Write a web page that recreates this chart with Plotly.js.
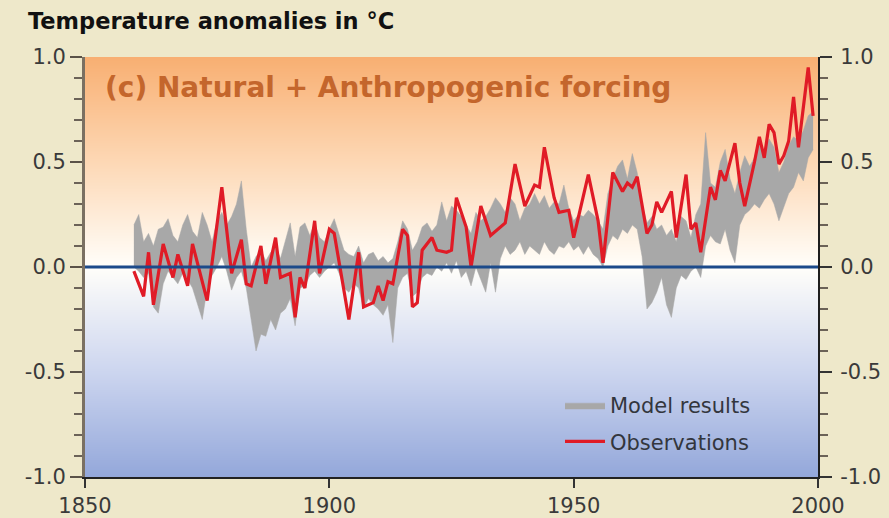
<!DOCTYPE html>
<html>
<head>
<meta charset="utf-8">
<script src="https://cdn.plot.ly/plotly-3.0.1.min.js"></script>
<style>html,body{margin:0;padding:0;background:#EEE8CA;}#chart{width:889px;height:518px;}</style>
</head>
<body>
<div id="chart"></div>
<script>
// ---- data ----
const modelYears = [];
for (let y = 1860; y <= 1999; y++) modelYears.push(y);
const modelUpper = [
 0.20,0.25,0.12,0.16,0.10,0.18,0.19,0.23,0.15,0.12,
 0.20,0.25,0.17,0.14,0.26,0.20,0.12,0.22,0.26,0.20,
 0.24,0.30,0.41,0.18,0.00,0.05,0.08,0.03,0.07,0.10,
 0.04,0.12,0.21,0.05,0.19,0.21,0.15,0.21,0.14,0.12,
 0.18,0.23,0.15,0.08,0.06,0.05,0.10,0.02,0.06,0.07,
 0.03,0.05,0.02,0.04,0.12,0.22,0.18,0.08,0.12,0.19,
 0.21,0.17,0.20,0.31,0.22,0.29,0.27,0.24,0.20,0.16,
 0.26,0.22,0.24,0.28,0.33,0.30,0.26,0.33,0.30,0.22,
 0.28,0.30,0.35,0.30,0.34,0.28,0.31,0.30,0.39,0.28,
 0.22,0.25,0.24,0.27,0.25,0.22,0.18,0.35,0.42,0.48,
 0.51,0.42,0.54,0.45,0.30,0.21,0.24,0.18,0.20,0.15,
 0.18,0.12,0.24,0.22,0.14,0.25,0.30,0.64,0.40,0.38,
 0.50,0.56,0.42,0.35,0.45,0.53,0.48,0.52,0.58,0.55,
 0.61,0.57,0.45,0.50,0.58,0.62,0.60,0.65,0.72,0.74
];
const modelLower = [
 0.00,-0.02,-0.05,-0.03,-0.19,-0.22,-0.08,-0.02,-0.05,-0.08,
 -0.03,-0.06,-0.10,-0.18,-0.25,-0.10,-0.04,0.00,0.05,-0.02,
 -0.11,-0.05,-0.02,-0.10,-0.25,-0.40,-0.32,-0.33,-0.25,-0.30,
 -0.22,-0.20,-0.15,-0.28,-0.10,-0.09,-0.04,-0.02,-0.05,-0.02,
 0.00,0.02,-0.03,-0.10,-0.12,-0.08,-0.10,-0.20,-0.15,-0.18,
 -0.20,-0.23,-0.18,-0.36,-0.10,-0.05,-0.03,-0.14,-0.12,-0.05,
 -0.03,-0.04,0.00,-0.02,0.02,-0.03,0.03,-0.05,-0.02,-0.09,
 0.00,-0.06,-0.12,0.02,-0.12,0.04,0.10,0.06,0.08,0.12,
 0.06,0.10,0.08,0.06,0.12,0.08,0.06,0.10,0.09,0.12,
 0.08,0.10,0.06,0.10,0.06,0.04,0.00,0.10,0.15,0.13,
 0.18,0.16,0.20,0.18,0.05,-0.20,-0.17,-0.12,-0.05,-0.18,
 -0.24,-0.10,-0.04,-0.06,-0.02,0.00,-0.05,0.10,0.15,0.12,
 0.11,0.18,0.08,0.02,0.20,0.25,0.27,0.30,0.28,0.32,
 0.35,0.30,0.22,0.28,0.35,0.38,0.45,0.41,0.52,0.56
];
const obsYears = [
 1860,1862,1863,1864,1866,1868,1869,1871,1872,1875,1878,1880,1882,1883,1884,1886,1887,1889,1890,1892,
 1893,1894,1895,1897,1898,1900,1901,1904,1906,1907,1909,1910,1911,1912,1913,1915,1916,1917,1918,1919,
 1921,1922,1924,1925,1926,1928,1929,1931,1933,1935,1936,1938,1940,1942,1943,1944,1946,1947,1949,1950,
 1953,1955,1956,1958,1960,1961,1962,1963,1965,1966,1967,1968,1970,1971,1973,1974,1975,1976,1978,1979,
 1980,1981,1983,1984,1985,1987,1988,1989,1990,1991,1992,1993,1994,1995,1996,1998,1999
];
const obsValues = [
 -0.02,-0.14,0.07,-0.18,0.11,-0.05,0.06,-0.09,0.11,-0.16,0.38,-0.03,0.13,-0.08,-0.09,0.10,-0.08,0.14,-0.05,-0.03,
 -0.24,-0.05,-0.10,0.22,-0.03,0.18,0.16,-0.25,0.07,-0.19,-0.17,-0.09,-0.16,-0.07,-0.08,0.18,0.15,-0.19,-0.17,0.08,
 0.14,0.08,0.07,0.08,0.33,0.19,0.00,0.29,0.15,0.19,0.21,0.49,0.29,0.39,0.38,0.57,0.33,0.26,0.27,0.14,
 0.44,0.22,0.02,0.45,0.36,0.40,0.38,0.43,0.16,0.20,0.31,0.26,0.36,0.14,0.44,0.18,0.21,0.07,0.38,0.32,
 0.46,0.41,0.59,0.40,0.29,0.50,0.62,0.52,0.68,0.64,0.49,0.53,0.60,0.81,0.57,0.95,0.72
];
const xTicks = [1850, 1900, 1950, 2000];
const yTicks = [-1.0, -0.5, 0.0, 0.5, 1.0];
const yTickText = ['-1.0', '-0.5', '0.0', '0.5', '1.0'];

// background gradient levels
const bgLevels = [-1, -0.5, 0, 0.5, 1];

const FONT = 'DejaVu Sans, Arial, sans-serif';

const traces = [
  {
    type: 'heatmap', x: [1850, 2000], y: bgLevels,
    z: bgLevels.map(v => [v, v]), zsmooth: 'best', zmin: -1, zmax: 1,
    colorscale: [[0, '#93A7DA'], [0.25, '#CCD5EF'], [0.5, '#FFFEFA'], [0.75, '#FDD8B5'], [1, '#F8AF72']],
    showscale: false, hoverinfo: 'skip', showlegend: false
  },
  {
    type: 'scatter', mode: 'lines', x: modelYears, y: modelLower,
    line: { color: '#A8A8A8', width: 0.5 }, showlegend: false, hoverinfo: 'skip',
    legendgroup: 'm'
  },
  {
    type: 'scatter', mode: 'lines', x: modelYears, y: modelUpper, fill: 'tonexty',
    fillcolor: '#A8A8A8', line: { color: '#A8A8A8', width: 0.5 },
    name: 'Model results', legendgroup: 'm', hoverinfo: 'skip'
  },
  {
    type: 'scatter', mode: 'lines', x: obsYears, y: obsValues, yaxis: 'y2',
    line: { color: '#E01B26', width: 3.2 }, name: 'Observations', legendgroup: 'o', hoverinfo: 'skip'
  }
];

const axisY = {
  range: [-1, 1], tickvals: yTicks, ticktext: yTickText,
  ticks: 'outside', ticklen: 12, tickwidth: 2, tickcolor: '#5a5248',
  minor: { dtick: 0.1, tick0: 0, ticks: 'outside', ticklen: 8, tickwidth: 2, tickcolor: '#6b6257' },
  showgrid: false, zeroline: false, showline: true, linewidth: 3, linecolor: '#7a7062',
  tickfont: { family: FONT, size: 21, color: '#3a3a3a' }, fixedrange: true, layer: 'above traces'
};

const layout = {
  width: 889, height: 518,
  margin: { l: 85, r: 71, t: 57, b: 41 },
  paper_bgcolor: '#EEE8CA', plot_bgcolor: '#FFFFFF',
  title: {
    text: 'Temperature anomalies in °C',
    font: { family: FONT, size: 22.5, color: '#111111', weight: 'bold' },
    x: 28 / 889, xref: 'container', xanchor: 'left',
    y: 1 - 21 / 518, yref: 'container', yanchor: 'middle'
  },
  xaxis: {
    range: [1850, 2000], tickvals: xTicks, ticks: 'outside', ticklen: 9, tickwidth: 2,
    tickcolor: '#333', showline: true, linecolor: '#222', linewidth: 2,
    showgrid: false, zeroline: false, fixedrange: true, layer: 'above traces',
    tickfont: { family: FONT, size: 21, color: '#3a3a3a' }
  },
  yaxis: Object.assign({}, axisY, { side: 'left' }),
  yaxis2: Object.assign({}, axisY, {
    side: 'right', overlaying: 'y', linecolor: '#1e1e1e', linewidth: 2, tickcolor: '#333',
    ticklabelstandoff: 4
  }),
  shapes: [
    { type: 'line', xref: 'paper', x0: 0, x1: 1, yref: 'y', y0: 0, y1: 0,
      line: { color: '#1C4A8A', width: 3 }, layer: 'above' }
  ],
  annotations: [
    { text: '(c) Natural + Anthropogenic forcing', xref: 'paper', yref: 'paper',
      x: 18 / 733, y: (477 - 88) / 420, xanchor: 'left', yanchor: 'middle', showarrow: false,
      font: { family: FONT, size: 28, color: '#C4662C', weight: 'bold' } }
  ],
  legend: {
    x: (560 - 85) / 733, y: (477 - 385) / 420, xanchor: 'left', yanchor: 'top',
    bgcolor: 'rgba(0,0,0,0)', font: { family: FONT, size: 21, color: '#33363d' },
    tracegroupgap: 6, itemwidth: 40
  },
  showlegend: true
};

Plotly.newPlot('chart', traces, layout, { displayModeBar: false, staticPlot: true });
</script>
</body>
</html>
